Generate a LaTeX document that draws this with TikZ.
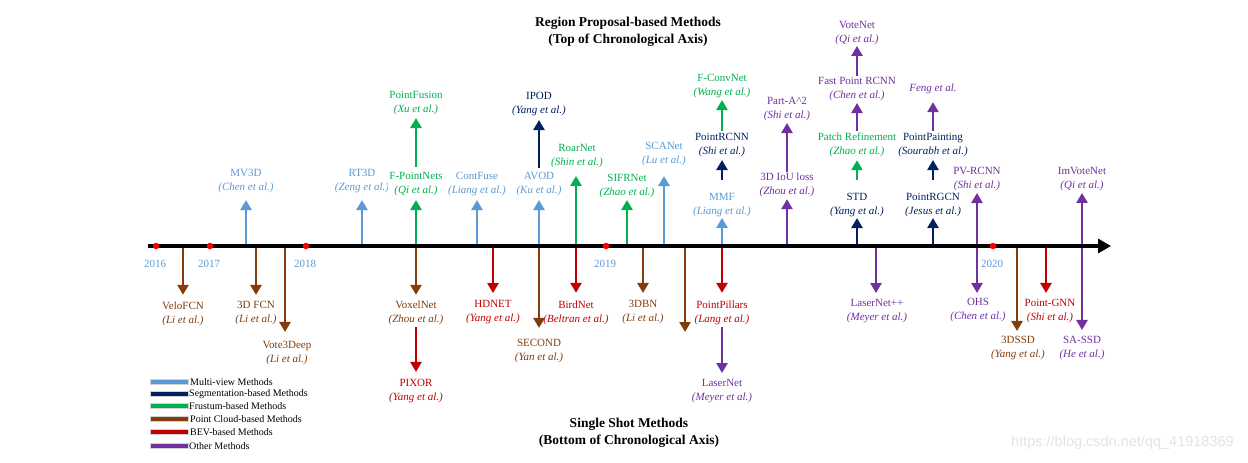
\documentclass[tikz,border=0pt]{standalone}
\usepackage{fontspec}
\setmainfont{Liberation Serif}
\newfontfamily\wmfont{Liberation Sans}
\usetikzlibrary{arrows.meta}
\definecolor{mvc}{HTML}{5B9BD5}
\definecolor{segc}{HTML}{002060}
\definecolor{frc}{HTML}{00B050}
\definecolor{pcc}{HTML}{843C0C}
\definecolor{bevc}{HTML}{C00000}
\definecolor{othc}{HTML}{7030A0}
\begin{document}
\begin{tikzpicture}[x=1pt,y=-1pt,
  lbl/.style={align=center, inner sep=1pt, fill=white, font=\fontsize{11}{14}\selectfont},
  ar/.style={line width=2.8pt, -{Triangle[length=10pt,width=11pt]}},
  yr/.style={text=mvc, font=\fontsize{11}{13}\selectfont, inner sep=0pt},
  ttl/.style={align=center, font=\bfseries\fontsize{13.5}{17}\selectfont},
  legt/.style={anchor=west, inner sep=0pt, font=\fontsize{10}{12}\selectfont},
  legbar/.style={draw=gray!35, line width=0.6pt},
  yeardot/.style={circle, fill=red, inner sep=0pt, minimum size=6.5pt}]
\useasboundingbox (0,0) rectangle (1248,463);

% titles
\node[ttl] (ttop) at (628,32) {Region Proposal-based Methods\\(Top of Chronological Axis)};
\node[ttl] (tbot) at (629,433) {Single Shot Methods\\(Bottom of Chronological Axis)};

% axis coordinates
\coordinate (axs) at (148,246);
\coordinate (axe) at (1111,246);
\foreach \n/\x in {mv3d/246,rt3d/362,fpn/416,cfu/477,avod/539,roar/576,sifr/627,scan/664,mmf/722,iou/787,std/857,rgcn/933,pvr/977,imv/1082,velo/183,fcn/256,v3d/285,hdn/493,sec/539,bird/576,dbn/643,unl/685,pp/722,lnpp/876,d3ssd/1017,gnn/1046,sassd/1082}
  \coordinate (a-\n) at (\x,246);
\coordinate (unlend) at (685,332);

% ---------- top labels ----------
\node[lbl, text=mvc] (mv3d) at (246,181) {MV3D\\\textit{(Chen et al.)}};
\node[lbl, text=mvc] (rt3d) at (362,181) {RT3D\\\textit{(Zeng et al.)}};
\node[lbl, text=frc] (fpn) at (416,184.5) {F-PointNets\\\textit{(Qi et al.)}};
\node[lbl, text=frc] (pfu) at (416,103) {PointFusion\\\textit{(Xu et al.)}};
\node[lbl, text=mvc] (cfu) at (477,184.5) {ContFuse\\\textit{(Liang et al.)}};
\node[lbl, text=mvc] (avod) at (539,184.5) {AVOD\\\textit{(Ku et al.)}};
\node[lbl, text=segc] (ipod) at (539,104) {IPOD\\\textit{(Yang et al.)}};
\node[lbl, text=frc] (roar) at (577,156) {RoarNet\\\textit{(Shin et al.)}};
\node[lbl, text=frc] (sifr) at (627,186.5) {SIFRNet\\\textit{(Zhao et al.)}};
\node[lbl, text=mvc] (scan) at (664,154.5) {SCANet\\\textit{(Lu et al.)}};
\node[lbl, text=mvc] (mmf) at (722,205) {MMF\\\textit{(Liang et al.)}};
\node[lbl, text=segc] (prcnn) at (722,145) {PointRCNN\\\textit{(Shi et al.)}};
\node[lbl, text=frc] (fconv) at (722,86) {F-ConvNet\\\textit{(Wang et al.)}};
\node[lbl, text=othc] (iou) at (787,185) {3D IoU loss\\\textit{(Zhou et al.)}};
\node[lbl, text=othc] (parta) at (787,109) {Part-A\textasciicircum 2\\\textit{(Shi et al.)}};
\node[lbl, text=segc] (std) at (857,205) {STD\\\textit{(Yang et al.)}};
\node[lbl, text=frc] (patch) at (857,145) {Patch Refinement\\\textit{(Zhao et al.)}};
\node[lbl, text=othc] (fprcnn) at (857,89) {Fast Point RCNN\\\textit{(Chen et al.)}};
\node[lbl, text=othc] (vote) at (857,33) {VoteNet\\\textit{(Qi et al.)}};
\node[lbl, text=segc] (rgcn) at (933,205) {PointRGCN\\\textit{(Jesus et al.)}};
\node[lbl, text=segc] (ppaint) at (933,145) {PointPainting\\\textit{(Sourabh et al.)}};
\node[lbl, text=othc] (feng) at (933,89) {\textit{Feng et al.}};
\node[lbl, text=othc] (pvr) at (977,179) {PV-RCNN\\\textit{(Shi et al.)}};
\node[lbl, text=othc] (imv) at (1082,179) {ImVoteNet\\\textit{(Qi et al.)}};

% ---------- bottom labels ----------
\node[lbl, text=pcc] (velo) at (183,313.5) {VeloFCN\\\textit{(Li et al.)}};
\node[lbl, text=pcc] (fcn) at (256,313.5) {3D FCN\\\textit{(Li et al.)}};
\node[lbl, text=pcc] (v3d) at (287,353) {Vote3Deep\\\textit{(Li et al.)}};
\node[lbl, text=pcc] (vox) at (416,313) {VoxelNet\\\textit{(Zhou et al.)}};
\node[lbl, text=bevc] (pixor) at (416,391.5) {PIXOR\\\textit{(Yang et al.)}};
\node[lbl, text=bevc] (hdn) at (493,312.5) {HDNET\\\textit{(Yang et al.)}};
\node[lbl, text=pcc] (sec) at (539,351) {SECOND\\\textit{(Yan et al.)}};
\node[lbl, text=bevc] (bird) at (576,312.5) {BirdNet\\\textit{(Beltran et al.)}};
\node[lbl, text=pcc] (dbn) at (643,312.5) {3DBN\\\textit{(Li et al.)}};
\node[lbl, text=bevc] (pp) at (722,312.5) {PointPillars\\\textit{(Lang et al.)}};
\node[lbl, text=othc] (lnet) at (722,391.5) {LaserNet\\\textit{(Meyer et al.)}};
\node[lbl, text=othc] (lnpp) at (877,311.5) {LaserNet++\\\textit{(Meyer et al.)}};
\node[lbl, text=othc] (ohs) at (978,310) {OHS\\\textit{(Chen et al.)}};
\node[lbl, text=pcc] (d3ssd) at (1018,348) {3DSSD\\\textit{(Yang et al.)}};
\node[lbl, text=bevc] (gnn) at (1050,311.5) {Point-GNN\\\textit{(Shi et al.)}};
\node[lbl, text=othc] (sassd) at (1082,348) {SA-SSD\\\textit{(He et al.)}};

% ---------- up arrows from axis ----------
\draw[ar, mvc, shorten >=6pt] (a-mv3d) -- (mv3d.south);
\draw[ar, mvc, shorten >=6pt] (a-rt3d) -- (rt3d.south);
\draw[ar, frc, shorten >=2.5pt] (a-fpn) -- (fpn.south);
\draw[ar, mvc, shorten >=2.5pt] (a-cfu) -- (cfu.south);
\draw[ar, mvc, shorten >=2.5pt] (a-avod) -- (avod.south);
\draw[ar, frc, shorten >=7pt] (a-roar) -- (roar.south -| a-roar);
\draw[ar, frc, shorten >=0.5pt] (a-sifr) -- (sifr.south);
\draw[ar, mvc, shorten >=8.5pt] (a-scan) -- (scan.south);
\draw[ar, mvc] (a-mmf) -- (mmf.south);
\draw[ar, othc, shorten >=1pt] (a-iou) -- (iou.south);
\draw[ar, segc] (a-std) -- (std.south);
\draw[ar, segc] (a-rgcn) -- (rgcn.south);
\draw[ar, othc, shorten >=1pt] (a-pvr) -- (pvr.south);
\draw[ar, othc, shorten >=1pt] (a-imv) -- (imv.south);

% chains upward
\draw[ar, frc, shorten <=4.5pt, shorten >=2pt] (fpn.north) -- (pfu.south);
\draw[ar, segc, shorten <=3.5pt, shorten >=3pt] (avod.north) -- (ipod.south);
\draw[ar, segc, shorten <=12pt, shorten >=2pt] (mmf.north) -- (prcnn.south);
\draw[ar, frc, shorten <=1pt, shorten >=1pt] (prcnn.north) -- (fconv.south);
\draw[ar, othc, shorten >=1pt] (iou.north) -- (parta.south);
\draw[ar, frc, shorten <=12pt, shorten >=2pt] (std.north) -- (patch.south);
\draw[ar, othc, shorten <=1pt, shorten >=1pt] (patch.north) -- (fprcnn.south);
\draw[ar, othc] (fprcnn.north) -- (vote.south);
\draw[ar, segc, shorten <=12pt, shorten >=2pt] (rgcn.north) -- (ppaint.south);
\draw[ar, othc, shorten <=1pt, shorten >=7pt] (ppaint.north) -- (feng.south);

% ---------- down arrows from axis ----------
\draw[ar, pcc, shorten >=5.5pt] (a-velo) -- (velo.north);
\draw[ar, pcc, shorten >=5.5pt] (a-fcn) -- (fcn.north);
\draw[ar, pcc, shorten >=8pt] (a-v3d) -- (v3d.north -| a-v3d);
\draw[ar, pcc, shorten >=5pt] (a-fpn) -- (vox.north);
\draw[ar, bevc, shorten >=6.5pt] (a-hdn) -- (hdn.north);
\draw[ar, pcc, shorten >=10pt] (a-sec) -- (sec.north);
\draw[ar, bevc, shorten >=6.5pt] (a-bird) -- (bird.north);
\draw[ar, pcc, shorten >=6.5pt] (a-dbn) -- (dbn.north);
\draw[ar, pcc] (a-unl) -- (unlend);
\draw[ar, bevc, shorten >=6.5pt] (a-pp) -- (pp.north);
\draw[ar, othc, shorten >=5.5pt] (a-lnpp) -- (lnpp.north -| a-lnpp);
\draw[ar, othc, shorten >=4pt] (a-pvr) -- (ohs.north -| a-pvr);
\draw[ar, pcc, shorten >=4pt] (a-d3ssd) -- (d3ssd.north -| a-d3ssd);
\draw[ar, bevc, shorten >=5.5pt] (a-gnn) -- (gnn.north -| a-gnn);
\draw[ar, othc, shorten >=5pt] (a-sassd) -- (sassd.north);

% chains downward
\draw[ar, bevc, shorten <=1pt, shorten >=6.5pt] (vox.south) -- (pixor.north);
\draw[ar, othc, shorten <=1.5pt, shorten >=5.5pt] (pp.south) -- (lnet.north);

% axis
\draw[line width=3.2pt, -{Triangle[length=13pt,width=14pt]}] (axs) -- (axe);

% years
\foreach \n/\x in {2016/156,2017/210,2018/306,2019/606,2020/993} {
  \node[yeardot] (d\n) at (\x,246) {};
  \node[yr] (y\n) at (\x-1,263.5) {\n};
}

% legend
\draw[legbar, fill=mvc] (150,379.5) rectangle (188,384.5);
\draw[legbar, fill=segc] (150,391.5) rectangle (188,396.5);
\draw[legbar, fill=frc] (150,403.5) rectangle (188,408.5);
\draw[legbar, fill=pcc] (150,416.5) rectangle (188,421.5);
\draw[legbar, fill=bevc] (150,429.5) rectangle (188,434.5);
\draw[legbar, fill=othc] (150,443) rectangle (188,448);
\node[legt] (lg1) at (190,382) {Multi-view Methods};
\node[legt] (lg2) at (189,394) {Segmentation-based Methods};
\node[legt] (lg3) at (189,406) {Frustum-based Methods};
\node[legt] (lg4) at (190,419) {Point Cloud-based Methods};
\node[legt] (lg5) at (190,432) {BEV-based Methods};
\node[legt] (lg6) at (189,446) {Other Methods};

% watermark
\node[anchor=west, inner sep=0pt, text=gray!22, font=\wmfont\fontsize{14.5}{16}\selectfont] (wm) at (1011,443) {https://blog.csdn.net/qq\_41918369};
\end{tikzpicture}
\end{document}
